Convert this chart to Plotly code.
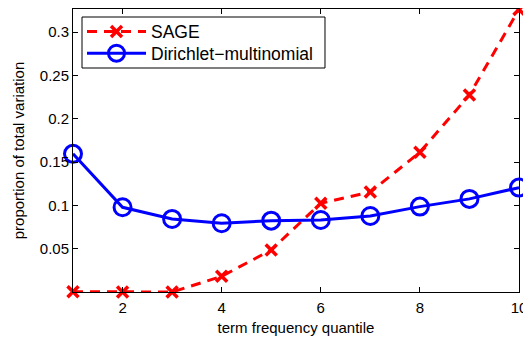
import plotly.graph_objects as go

quantiles = [1, 2, 3, 4, 5, 6, 7, 8, 9, 10]
sage = [0.0008, 0.0004, 0.0004, 0.0185, 0.0488, 0.1027, 0.1155, 0.1615, 0.2275, 0.326]
dirichlet = [0.1596, 0.0980, 0.0846, 0.0796, 0.0826, 0.0834, 0.0880, 0.0988, 0.1077, 0.1207]
xticks = [2, 4, 6, 8, 10]
yticks = [0.05, 0.1, 0.15, 0.2, 0.25, 0.3]
ytick_labels = ["0.05", "0.1", "0.15", "0.2", "0.25", "0.3"]

font = "Liberation Sans, Arial, Helvetica, sans-serif"

fig = go.Figure()
fig.add_trace(go.Scatter(
    x=quantiles, y=sage, name="SAGE", mode="lines+markers",
    line=dict(color="#ff0000", width=3, dash="10px,7px"),
    marker=dict(symbol="x-thin-open", size=11, color="#ff0000",
                line=dict(color="#ff0000", width=3.5)),
    cliponaxis=False, legend="legend",
))
fig.add_trace(go.Scatter(
    x=quantiles, y=dirichlet, name="Dirichlet\u2212multinomial", mode="lines+markers",
    line=dict(color="#0000ff", width=3),
    marker=dict(symbol="circle-open", size=17, color="#0000ff",
                line=dict(color="#0000ff", width=3)),
    cliponaxis=False, legend="legend2",
))

axis_common = dict(
    showline=True, linecolor="black", linewidth=1, mirror="ticks",
    ticks="inside", ticklen=5, tickcolor="black", showgrid=False, zeroline=False,
    tickfont=dict(family=font, size=15, color="black"),
    automargin=False,
)

legend_common = dict(
    xanchor="left", yanchor="middle", bgcolor="rgba(0,0,0,0)", borderwidth=0,
    font=dict(family=font, size=17.5, color="black"), itemwidth=59,
)

# The page body has an 8px default margin, so the figure is 8px smaller
# and margins are reduced accordingly.
fig.update_layout(
    width=523, height=331,
    margin=dict(l=65, r=12, t=1, b=47, autoexpand=False),
    paper_bgcolor="white", plot_bgcolor="white",
    font=dict(family=font, color="black"),
    xaxis=dict(range=[1, 10], tickvals=xticks, ticklabelstandoff=2,
               title=dict(text="term frequency quantile", font=dict(family=font, size=15), standoff=7),
               **axis_common),
    yaxis=dict(range=[0.0004, 0.3265], tickvals=yticks, ticktext=ytick_labels,
               title=dict(text="proportion of total variation", font=dict(family=font, size=15), standoff=11),
               **axis_common),
    legend=dict(x=0.0202, y=0.9198, **legend_common),
    legend2=dict(x=0.0202, y=0.8435, **legend_common),
    showlegend=True,
    shapes=[dict(type="rect", xref="paper", yref="paper",
                 x0=0.0202, x1=0.565, y0=0.7915, y1=0.9717,
                 line=dict(color="black", width=1), fillcolor="white", layer="above")],
)

fig.write_html("out.html")
